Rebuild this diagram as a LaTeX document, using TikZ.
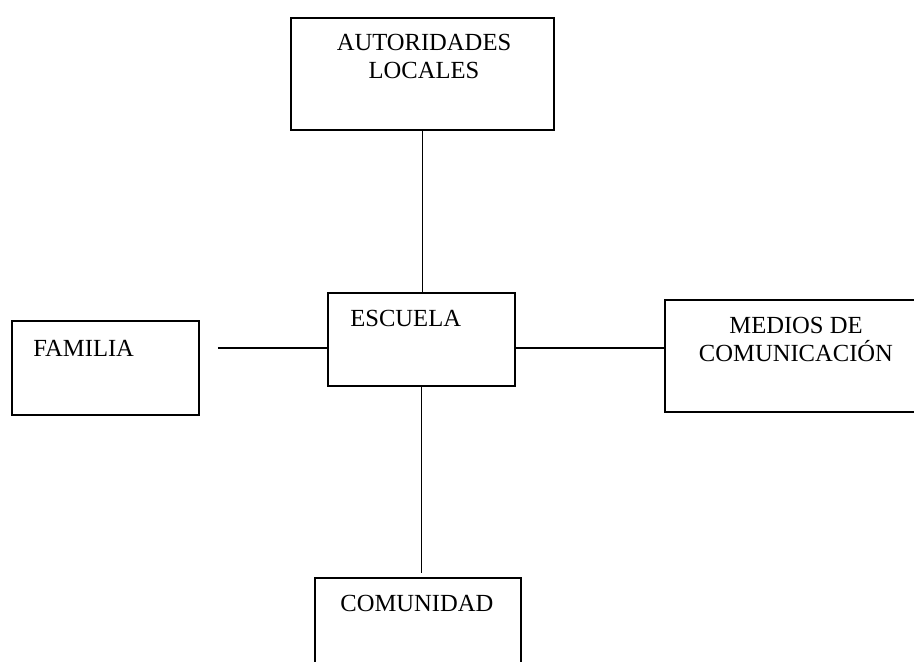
\documentclass[tikz,border=0pt]{standalone}
\usepackage{fontspec}
\setmainfont{Liberation Serif}

\begin{document}
\begin{tikzpicture}[x=0.02cm,y=-0.02cm,
  caja/.style={draw,line width=0.9pt,inner sep=0pt},
  texto/.style={inner sep=0pt,align=center,font=\fontsize{14}{16}\selectfont},
  linea/.style={line width=0.9pt}]
  \useasboundingbox (0,0) rectangle (914,662);
  % cajas
  \node[caja,minimum width=5.26cm,minimum height=2.24cm] (AL) at (422.5,74) {};
  \node[caja,minimum width=3.74cm,minimum height=1.86cm] (ES) at (421.5,339.5) {};
  \node[caja,minimum width=3.74cm,minimum height=1.88cm] (FA) at (105.5,368) {};
  \node[caja,minimum width=5.30cm,minimum height=2.24cm] (MC) at (797.5,356) {};
  \node[caja,minimum width=4.12cm,minimum height=2.44cm] (CO) at (418,639) {};
  % textos
  \node[texto,anchor=north] (tAL) at (424,33.5) {AUTORIDADES\\LOCALES};
  \node[texto,anchor=base west] (tES) at (350,327) {ESCUELA};
  \node[texto,anchor=base west] (tFA) at (33,357) {FAMILIA};
  \node[texto,anchor=north] (tMC) at (796,317) {MEDIOS DE\\COMUNICACIÓN};
  \node[texto,anchor=base west] (tCO) at (340,612) {COMUNIDAD};
  % lineas
  \coordinate (eje) at (421.5,348);
  \draw[linea] (AL.south) -- (AL.south |- ES.north);
  \draw[linea] ([xshift=0.36cm]FA.east |- eje) -- (ES.west |- eje);
  \draw[linea] (ES.east |- eje) -- (MC.west |- eje);
  \draw[linea,shorten >=0.08cm] (ES.south) -- (ES.south |- CO.north);
\end{tikzpicture}
\end{document}
